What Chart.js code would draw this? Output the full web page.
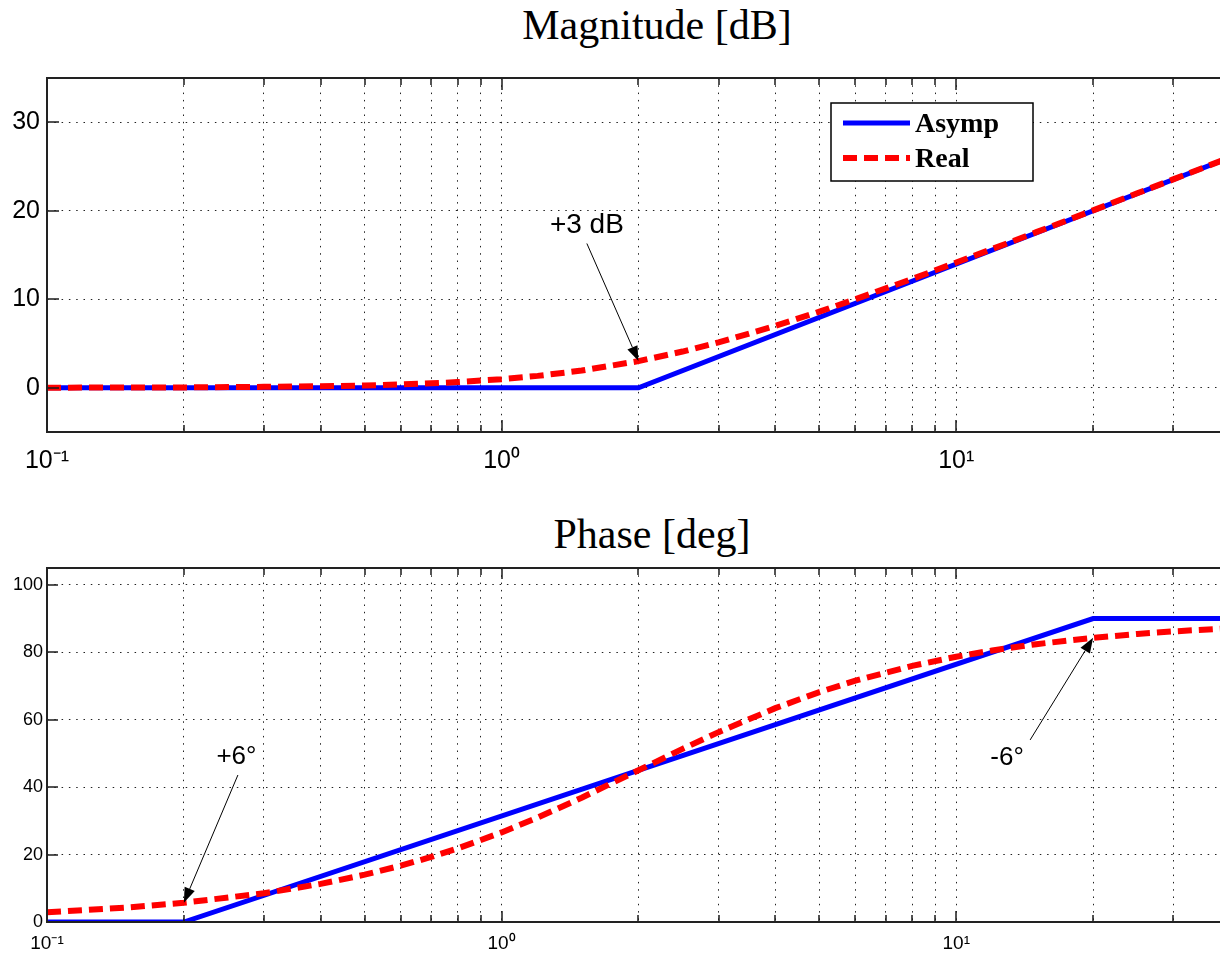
<!DOCTYPE html>
<html><head><meta charset="utf-8">
<script src="https://cdn.jsdelivr.net/npm/chart.js@4.4.0/dist/chart.umd.min.js"></script>
<style>
html,body{margin:0;padding:0;background:#fff;overflow:hidden;width:1220px;height:954px;}
#wrap{position:relative;width:1274px;height:954px;overflow:hidden;}
.ttl{position:absolute;font-family:"Liberation Serif","Times New Roman",serif;font-size:42px;line-height:42px;white-space:nowrap;transform:translateX(-50%);color:#000;}
canvas{position:absolute;left:0;}
</style></head><body>
<div id="wrap">
<div class="ttl" style="left:657px;top:4px">Magnitude [dB]</div>
<div class="ttl" style="left:652px;top:513px">Phase [deg]</div>
<canvas id="mag" width="1274" height="480" style="top:0px"></canvas>
<canvas id="phase" width="1274" height="454" style="top:500px"></canvas>
</div>
<script>
// ---- data ----
const seriesNames = ['Asymp', 'Real'];
const freqReal  = [0.1,0.15,0.2,0.3,0.4,0.5,0.6,0.7,0.8,1,1.2,1.5,2,2.5,3,4,5,6,8,10,12,15,20,25,30,40,50];
const magReal   = [0.01,0.02,0.04,0.1,0.17,0.26,0.37,0.5,0.64,0.97,1.34,1.94,3.01,4.09,5.12,6.99,8.6,10,12.3,14.15,15.68,17.58,20.04,21.97,23.54,26.03,27.97];
const phaseReal = [2.86,4.29,5.71,8.53,11.31,14.04,16.7,19.29,21.8,26.57,30.96,36.87,45,51.34,56.31,63.43,68.2,71.57,75.96,78.69,80.54,82.41,84.29,85.43,86.19,87.14,87.71];
const freqAsympMag   = [0.1, 2, 50];
const magAsymp       = [0, 0, 27.96];
const freqAsympPhase = [0.1, 0.2, 20, 50];
const phaseAsymp     = [0, 0, 90, 90];
const xGrid = [0.1,0.2,0.3,0.4,0.5,0.6,0.7,0.8,0.9,1,2,3,4,5,6,7,8,9,10,20,30,40,50];
const xDecades = [0.1, 1, 10];
const xDecadeLabels = ['10⁻¹', '10⁰', '10¹'];
const magTicks = [0, 10, 20, 30];
const phaseTicks = [0, 20, 40, 60, 80, 100];

const pts = (xs, ys) => xs.map((x, i) => ({x: x, y: ys[i]}));

// ---- plugins ----
const axesFrame = {
  id: 'axesFrame',
  afterDraw(chart, args, o) {
    const {ctx, chartArea: a, scales: {x, y}} = chart;
    ctx.save();
    ctx.strokeStyle = '#1a1a1a';
    ctx.lineWidth = 1.5;
    const ln = (x1, y1, x2, y2) => { ctx.beginPath(); ctx.moveTo(x1, y1); ctx.lineTo(x2, y2); ctx.stroke(); };
    x.ticks.forEach(t => {
      const px = Math.round(x.getPixelForValue(t.value));
      const len = xDecades.includes(t.value) ? o.major : o.minor;
      ln(px, a.bottom, px, a.bottom - len);
      ln(px, a.top, px, a.top + len);
    });
    y.ticks.forEach(t => {
      const py = Math.round(y.getPixelForValue(t.value));
      ln(a.left, py, a.left + o.major, py);
    });
    ctx.lineWidth = 2;
    ctx.strokeStyle = '#222';
    ctx.beginPath();
    ctx.moveTo(a.right, a.top); ctx.lineTo(a.left, a.top);
    ctx.lineTo(a.left, a.bottom); ctx.lineTo(a.right, a.bottom);
    ctx.stroke();
    ctx.restore();
  }
};

const arrows = {
  id: 'arrows',
  afterDatasetsDraw(chart, args, o) {
    const {ctx, scales: {x, y}} = chart;
    (o.items || []).forEach(it => {
      const ds = chart.data.datasets[it.dataset];
      const pt = ds.data.find(p => p.x === it.tipX);
      const tx = x.getPixelForValue(pt.x), ty = y.getPixelForValue(pt.y);
      const sx = x.getPixelForValue(it.fromX), sy = y.getPixelForValue(it.fromY);
      const ang = Math.atan2(ty - sy, tx - sx);
      const hl = 15, hw = 5.5;
      const bx = tx - hl * Math.cos(ang), by = ty - hl * Math.sin(ang);
      ctx.save();
      ctx.strokeStyle = '#000'; ctx.fillStyle = '#000'; ctx.lineWidth = 1;
      ctx.beginPath(); ctx.moveTo(sx, sy); ctx.lineTo(bx, by); ctx.stroke();
      ctx.beginPath();
      ctx.moveTo(tx, ty);
      ctx.lineTo(bx + hw * Math.sin(ang), by - hw * Math.cos(ang));
      ctx.lineTo(bx - hw * Math.sin(ang), by + hw * Math.cos(ang));
      ctx.closePath(); ctx.fill();
      ctx.font = it.font;
      ctx.textAlign = 'center'; ctx.textBaseline = 'middle';
      ctx.fillText(it.text, x.getPixelForValue(it.textX), y.getPixelForValue(it.textY));
      ctx.restore();
    });
  }
};

const boxLegend = {
  id: 'boxLegend',
  afterDraw(chart, args, o) {
    if (!o.show) return;
    const ctx = chart.ctx;
    ctx.save();
    ctx.fillStyle = '#fff';
    ctx.fillRect(o.left, o.top, o.width, o.height);
    ctx.strokeStyle = '#000'; ctx.lineWidth = 1.5;
    ctx.strokeRect(o.left, o.top, o.width, o.height);
    chart.data.datasets.forEach((ds, i) => {
      const yy = o.top + o.firstRow + i * o.rowGap;
      ctx.strokeStyle = ds.borderColor; ctx.lineWidth = ds.borderWidth;
      ctx.setLineDash(ds.borderDash || []);
      ctx.beginPath(); ctx.moveTo(o.left + o.lineStart, yy); ctx.lineTo(o.left + o.lineEnd, yy); ctx.stroke();
      ctx.setLineDash([]);
      ctx.fillStyle = '#000'; ctx.font = o.font; ctx.textAlign = 'left'; ctx.textBaseline = 'alphabetic';
      ctx.fillText(ds.label, o.left + o.textX, yy + o.textDy);
    });
    ctx.restore();
  }
};

const sans = '"Liberation Sans", Arial, Helvetica, sans-serif';

function makeChart(id, cfg) {
  return new Chart(document.getElementById(id), {
    type: 'line',
    data: {
      datasets: [
        {label: seriesNames[0], data: cfg.asymp, borderColor: '#0000ff', borderWidth: 5,
         pointRadius: 0, tension: 0, order: 1, clip: 0, borderCapStyle: 'butt'},
        {label: seriesNames[1], data: cfg.real, borderColor: '#ff0000', borderWidth: 6, borderDash: [14, 7],
         pointRadius: 0, tension: 0, order: 0, clip: 0, borderCapStyle: 'butt'}
      ]
    },
    options: {
      responsive: false, animation: false, devicePixelRatio: 1,
      layout: {padding: {top: cfg.padTop, left: 0, right: 0, bottom: 0}},
      plugins: {
        legend: {display: false}, tooltip: {enabled: false}, title: {display: false},
        axesFrame: {major: cfg.tickMajor, minor: cfg.tickMinor},
        arrows: {items: cfg.arrows},
        boxLegend: cfg.legend
      },
      scales: {
        x: {
          type: 'logarithmic', min: 0.1, max: 50,
          afterBuildTicks: s => { s.ticks = xGrid.map(v => ({value: v})); },
          afterFit: s => { s.height = cfg.xAxisH; s.paddingLeft = 0; s.paddingRight = 0; },
          grid: {color: '#222', lineWidth: 1, drawTicks: false},
          border: {display: false, dash: [1.5, 5.8]},
          ticks: {autoSkip: false, maxRotation: 0, minRotation: 0, padding: cfg.xPad, color: '#000',
                  font: {family: sans, size: cfg.xFont},
                  callback: v => { const i = xDecades.indexOf(v); return i >= 0 ? xDecadeLabels[i] : ''; }}
        },
        y: {
          min: cfg.yMin, max: cfg.yMax,
          afterBuildTicks: s => { s.ticks = cfg.yTicks.map(v => ({value: v})); },
          afterFit: s => { s.width = 47; s.paddingTop = 0; s.paddingBottom = 0; },
          grid: {color: '#222', lineWidth: 1, drawTicks: false},
          border: {display: false, dash: [1.5, 5.8]},
          ticks: {padding: cfg.yPad, color: '#000', font: {family: sans, size: cfg.yFont}}
        }
      }
    },
    plugins: [axesFrame, arrows, boxLegend]
  });
}

makeChart('mag', {
  asymp: pts(freqAsympMag, magAsymp), real: pts(freqReal, magReal),
  padTop: 78, xAxisH: 48, xPad: 14, xFont: 25, yMin: -5, yMax: 35, yTicks: magTicks, yPad: 7, yFont: 25,
  tickMajor: 12, tickMinor: 7,
  arrows: [{dataset: 1, tipX: 2, fromX: 1.54, fromY: 16.3, text: '+3 dB', textX: 1.54, textY: 18.4,
            font: '28px ' + sans}],
  legend: {show: true, left: 831, top: 103, width: 202, height: 78, firstRow: 20, rowGap: 35,
           lineStart: 12, lineEnd: 79, textX: 84, textDy: 9,
           font: 'bold 28px "Liberation Serif", "Times New Roman", serif'}
});

makeChart('phase', {
  asymp: pts(freqAsympPhase, phaseAsymp), real: pts(freqReal, phaseReal),
  padTop: 68, xAxisH: 32, xPad: 10, xFont: 19, yMin: 0, yMax: 105, yTicks: phaseTicks, yPad: 4, yFont: 18,
  tickMajor: 11, tickMinor: 7,
  arrows: [
    {dataset: 1, tipX: 0.2, fromX: 0.263, fromY: 43.6, text: '+6°', textX: 0.261, textY: 49.0, font: '26px ' + sans},
    {dataset: 1, tipX: 20, fromX: 14.54, fromY: 54.0, text: '-6°', textX: 12.94, textY: 48.6, font: '26px ' + sans}
  ],
  legend: {show: false}
});
</script>
</body></html>
